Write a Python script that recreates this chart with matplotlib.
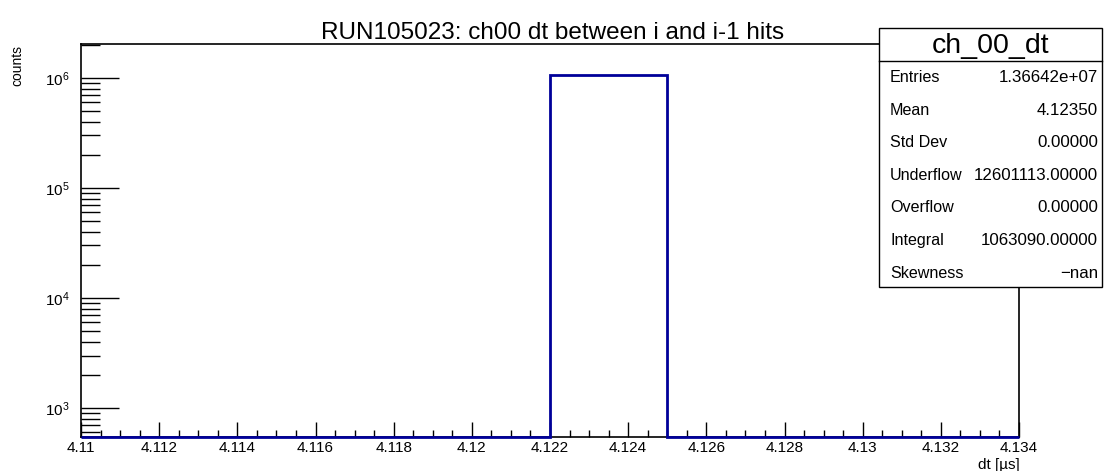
import numpy as np
import matplotlib.pyplot as plt
from matplotlib.patches import Rectangle
from matplotlib.ticker import LogLocator, NullFormatter, MultipleLocator

plt.rcParams['font.family'] = ['Liberation Sans', 'DejaVu Sans']

# histogram data (8 bins of 0.003 us)
bin_edges = [4.110, 4.113, 4.116, 4.119, 4.122, 4.125, 4.128, 4.131, 4.134]
counts = [0, 0, 0, 0, 1063090, 0, 0, 0]
x_ticks = [4.11, 4.112, 4.114, 4.116, 4.118, 4.12, 4.122, 4.124, 4.126, 4.128, 4.13, 4.132, 4.134]
x_tick_labels = ['4.11', '4.112', '4.114', '4.116', '4.118', '4.12', '4.122', '4.124',
                 '4.126', '4.128', '4.13', '4.132', '4.134']

stat_names = ['Entries', 'Mean', 'Std Dev', 'Underflow', 'Overflow', 'Integral', 'Skewness']
stat_values = ['1.36642e+07', '4.12350', '0.00000', '12601113.00000', '0.00000',
               '1063090.00000', '\u2212nan']

W, H = 1107, 471
fig = plt.figure(figsize=(W / 100, H / 100), dpi=100)
ax = fig.add_axes([81 / W, 1 - 437 / H, (1019 - 81) / W, (437 - 44) / H])

ymin, ymax = 546, 2.03e6
ax.set_yscale('log')
ax.set_xlim(bin_edges[0], bin_edges[-1])
ax.set_ylim(ymin, ymax)

# zero bins drawn at the bottom, like ROOT does
vals = np.clip(np.array(counts, dtype=float), ymin, None)
ax.stairs(vals, bin_edges, baseline=ymin, color='#000099', lw=2, clip_on=False, zorder=3)

ax.set_xticks(x_ticks)
ax.set_xticklabels(x_tick_labels)
ax.xaxis.set_minor_locator(MultipleLocator(0.0005))
ax.yaxis.set_major_locator(LogLocator(base=10))
ax.yaxis.set_minor_locator(LogLocator(base=10, subs=np.arange(2, 10)))
ax.yaxis.set_minor_formatter(NullFormatter())

ax.tick_params(axis='x', which='major', direction='in', length=11, width=1, labelsize=11, pad=3)
ax.tick_params(axis='x', which='minor', direction='in', length=5, width=1)
ax.tick_params(axis='y', which='major', direction='in', length=27, width=1, labelsize=11, pad=8)
ax.tick_params(axis='y', which='minor', direction='in', length=14, width=1)
for s in ax.spines.values():
    s.set_linewidth(1.2)

fig.text(553 / W, 1 - 33 / H, 'RUN105023: ch00 dt between i and i-1 hits',
         ha='center', va='center', fontsize=17.5)
fig.text(17 / W, 1 - 45 / H, 'counts', rotation=90, ha='center', va='top', fontsize=10)
fig.text(1020 / W, 1 - 465 / H, 'dt [\u00b5s]', ha='right', va='center', fontsize=11)

# stats box
bx0, bx1, by0, by1 = 879, 1102, 28, 287
fig.patches.append(Rectangle((bx0 / W, 1 - by1 / H), (bx1 - bx0) / W, (by1 - by0) / H,
                             transform=fig.transFigure, facecolor='white',
                             edgecolor='black', lw=1, zorder=10))
fig.lines.append(plt.Line2D([bx0 / W, bx1 / W], [1 - 61 / H, 1 - 61 / H],
                            transform=fig.transFigure, color='black', lw=1, zorder=11))
fig.text((bx0 + bx1) / 2 / W, 1 - 46 / H, 'ch_00_dt', ha='center', va='center',
         fontsize=20.5, zorder=12)
for i, (n, v) in enumerate(zip(stat_names, stat_values)):
    yy = 1 - (78 + i * 32.5) / H
    fig.text(890 / W, yy, n, ha='left', va='center', fontsize=11.6, zorder=12)
    fig.text(1098 / W, yy, v, ha='right', va='center', fontsize=12.2, zorder=12)

fig.savefig('out.png', dpi=100)
